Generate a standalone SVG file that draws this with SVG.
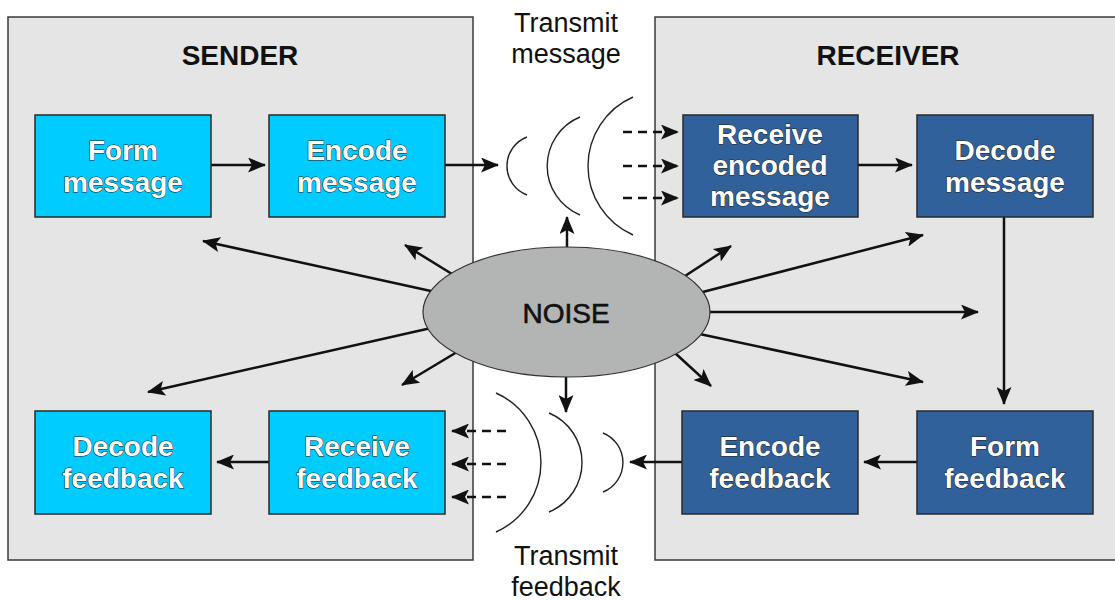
<svg xmlns="http://www.w3.org/2000/svg" width="1115" height="601" viewBox="0 0 1115 601">
<style>
.panel{fill:#e5e5e5;stroke:#3a3a3a;stroke-width:1.5}
.light{fill:#00ccff;stroke:#2a2a2a;stroke-width:1.5}
.dark{fill:#31619b;stroke:#2a2a2a;stroke-width:1.5}
.lbl{font-family:"Liberation Sans",Arial,sans-serif;font-weight:bold;font-size:28px;fill:#ffffff;stroke:#222;stroke-width:1;paint-order:stroke;text-anchor:middle}
.title{font-family:"Liberation Sans",Arial,sans-serif;font-weight:bold;font-size:28px;fill:#111;text-anchor:middle}
.plain{font-family:"Liberation Sans",Arial,sans-serif;font-size:27px;fill:#111;text-anchor:middle}
.noise{font-family:"Liberation Sans",Arial,sans-serif;font-size:28px;fill:#111;stroke:#111;stroke-width:0.6;text-anchor:middle}
.ln{stroke:#111;stroke-width:2.5;fill:none;marker-end:url(#ah)}
.dash{stroke:#111;stroke-width:2.5;fill:none;stroke-dasharray:9 6;marker-end:url(#ah)}
.wave{stroke:#222;stroke-width:1.4;fill:none}
</style>
<defs>
<marker id="ah" markerUnits="userSpaceOnUse" viewBox="0 0 18 15" refX="17" refY="7.5" markerWidth="18" markerHeight="15" orient="auto">
<path d="M0,0 L18,7.5 L0,15 L4,7.5 z" fill="#111"/>
</marker>
</defs>
<rect width="1115" height="601" fill="#ffffff"/>
<g id="sender">
<rect class="panel" x="8" y="17" width="465" height="543"/>
<text class="title" x="240" y="65">SENDER</text>
</g>
<g id="receiver">
<rect class="panel" x="655" y="17" width="470" height="543"/>
<text class="title" x="888" y="65">RECEIVER</text>
</g>
<g id="transmit-message"><text class="plain" x="566" y="32">Transmit</text><text class="plain" x="566" y="63">message</text></g>
<g id="transmit-feedback"><text class="plain" x="566" y="565">Transmit</text><text class="plain" x="566" y="596">feedback</text></g>
<g id="waves">
<path class="wave" d="M527,137 A31,31 0 0 0 527,195"/>
<path class="wave" d="M580,117 A53,53 0 0 0 580,215"/>
<path class="wave" d="M633,97 A75.4,75.4 0 0 0 633,235"/>
<path class="wave" d="M603,433 A31.8,31.8 0 0 1 603,492"/>
<path class="wave" d="M549,413 A53.6,53.6 0 0 1 549,512"/>
<path class="wave" d="M496,393 A76.2,76.2 0 0 1 496,532"/>
</g>
<g id="connectors">
<line class="ln" x1="211" y1="165" x2="265" y2="165"/>
<line class="ln" x1="445" y1="165" x2="498" y2="165"/>
<line class="dash" x1="623" y1="132" x2="678" y2="132"/>
<line class="dash" x1="623" y1="166" x2="678" y2="166"/>
<line class="dash" x1="623" y1="198" x2="678" y2="198"/>
<line class="ln" x1="858" y1="165" x2="912" y2="165"/>
<line class="ln" x1="1004" y1="217" x2="1004" y2="404"/>
<line class="ln" x1="917" y1="462" x2="864" y2="462"/>
<line class="ln" x1="682" y1="462" x2="630" y2="462"/>
<line class="dash" x1="506" y1="431" x2="452" y2="431"/>
<line class="dash" x1="506" y1="464" x2="452" y2="464"/>
<line class="dash" x1="506" y1="497" x2="452" y2="497"/>
<line class="ln" x1="269" y1="462" x2="217" y2="462"/>
<line class="ln" x1="567" y1="260" x2="567" y2="217"/>
<line class="ln" x1="566" y1="365" x2="566" y2="412"/>
<line class="ln" x1="452" y1="274" x2="405" y2="245"/>
<line class="ln" x1="440" y1="293" x2="203" y2="241"/>
<line class="ln" x1="440" y1="326" x2="148" y2="392"/>
<line class="ln" x1="457" y1="352" x2="402" y2="385"/>
<line class="ln" x1="685" y1="276" x2="731" y2="246"/>
<line class="ln" x1="695" y1="294" x2="923" y2="235"/>
<line class="ln" x1="700" y1="312" x2="978" y2="312"/>
<line class="ln" x1="695" y1="333" x2="923" y2="382"/>
<line class="ln" x1="675" y1="353" x2="711" y2="386"/>
</g>
<g id="noise">
<ellipse cx="566.5" cy="312" rx="143.5" ry="65" fill="#b3b5b5" stroke="#333" stroke-width="1.2"/>
<text class="noise" x="566" y="323">NOISE</text>
</g>
<g id="form-message"><rect class="light" x="35" y="115" width="176" height="102"/><text class="lbl" x="123" y="160">Form</text><text class="lbl" x="123" y="192">message</text></g>
<g id="encode-message"><rect class="light" x="269" y="115" width="176" height="102"/><text class="lbl" x="357" y="160">Encode</text><text class="lbl" x="357" y="192">message</text></g>
<g id="receive-encoded-message"><rect class="dark" x="683" y="115" width="175" height="102"/><text class="lbl" x="770" y="144">Receive</text><text class="lbl" x="770" y="175">encoded</text><text class="lbl" x="770" y="206">message</text></g>
<g id="decode-message"><rect class="dark" x="917" y="115" width="176" height="102"/><text class="lbl" x="1005" y="160">Decode</text><text class="lbl" x="1005" y="192">message</text></g>
<g id="decode-feedback"><rect class="light" x="35" y="411" width="176" height="103"/><text class="lbl" x="123" y="456">Decode</text><text class="lbl" x="123" y="488">feedback</text></g>
<g id="receive-feedback"><rect class="light" x="269" y="411" width="176" height="103"/><text class="lbl" x="357" y="456">Receive</text><text class="lbl" x="357" y="488">feedback</text></g>
<g id="encode-feedback"><rect class="dark" x="682" y="411" width="176" height="103"/><text class="lbl" x="770" y="456">Encode</text><text class="lbl" x="770" y="488">feedback</text></g>
<g id="form-feedback"><rect class="dark" x="917" y="411" width="176" height="103"/><text class="lbl" x="1005" y="456">Form</text><text class="lbl" x="1005" y="488">feedback</text></g>
</svg>
